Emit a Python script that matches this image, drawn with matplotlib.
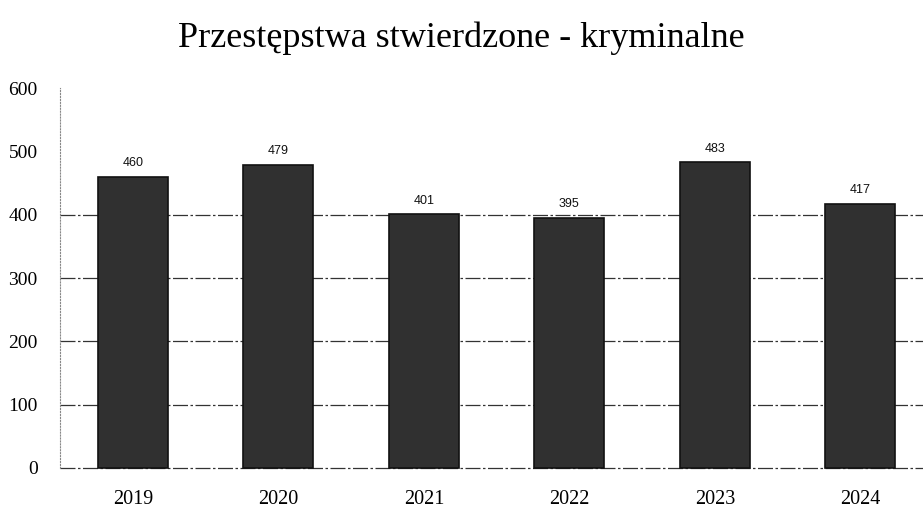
import matplotlib
matplotlib.use("Agg")
import matplotlib.pyplot as plt

years = ["2019", "2020", "2021", "2022", "2023", "2024"]
values = [460, 479, 401, 395, 483, 417]
y_ticks = [0, 100, 200, 300, 400, 500, 600]
title = "Przestępstwa stwierdzone - kryminalne"

fig = plt.figure(figsize=(9.23, 5.13), dpi=100)
ax = fig.add_axes([0.065, 0.088, 0.935, 0.74])
ax.set_axisbelow(True)

x = list(range(len(years)))
bars = ax.bar(x, values, width=0.48, color="#303030", edgecolor="#111111", linewidth=1.2, zorder=3)
for b in bars:
    b.set_clip_on(False)

for xi, v in zip(x, values):
    ax.text(xi, v + 12, str(v), ha="center", va="bottom", fontsize=9,
            family="Liberation Sans", color="#111111")

ax.set_xlim(-0.5, 5.43)
ax.set_ylim(0, 600)
ax.set_yticks(y_ticks)
ax.set_yticklabels([str(t) for t in y_ticks], family="Liberation Serif", fontsize=14)
ax.set_xticks(x)
ax.set_xticklabels(years, family="Liberation Serif", fontsize=14.5)
ax.tick_params(axis="y", length=0, pad=16)
ax.tick_params(axis="x", length=0, pad=16)

ax.yaxis.grid(True, color="#333333", linestyle=(0, (12, 2, 2, 2)), linewidth=0.9)
for gl, t in zip(ax.yaxis.get_gridlines(), y_ticks):
    gl.set_clip_on(False)
    if t >= 500:
        gl.set_visible(False)

for s in ["top", "right", "bottom"]:
    ax.spines[s].set_visible(False)
ax.spines["left"].set_color("#888888")
ax.spines["left"].set_linestyle(":")
ax.spines["left"].set_linewidth(0.8)

fig.text(0.5, 0.925, title, ha="center", va="center", family="Liberation Serif", fontsize=26)

fig.savefig("out.png", dpi=100, facecolor="white")
